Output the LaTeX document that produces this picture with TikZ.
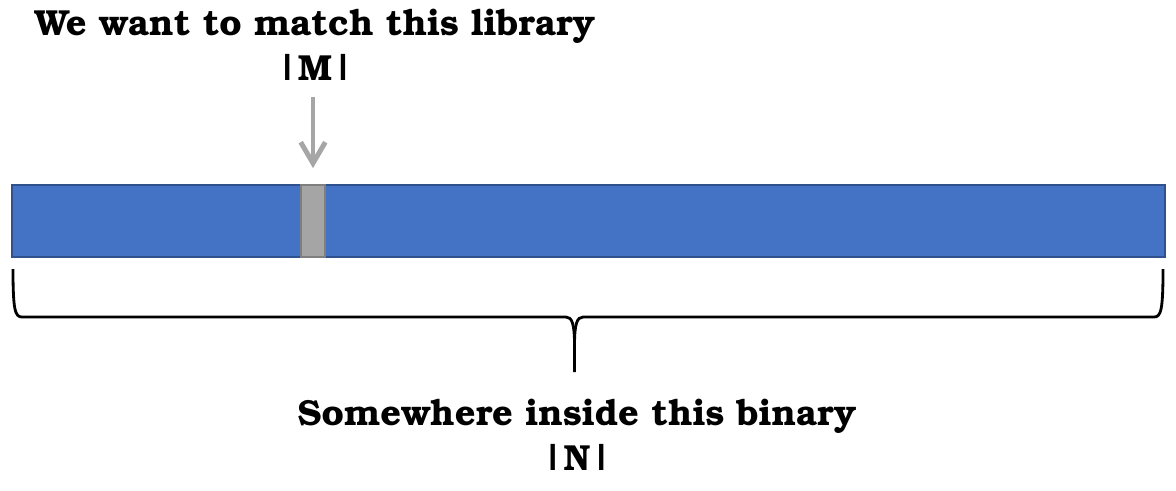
\documentclass[tikz,border=0pt]{standalone}
\usepackage[T1]{fontenc}
\usepackage{bookman}
\usepackage{tikz}
\usetikzlibrary{arrows.meta}
\definecolor{barblue}{HTML}{4472C4}
\definecolor{barline}{HTML}{2F528F}
\definecolor{matchgray}{HTML}{A5A5A5}
\definecolor{matchline}{HTML}{7F7F7F}
\definecolor{arrowgray}{HTML}{A6A6A6}

\begin{document}
\begin{tikzpicture}[
    label text/.style={font=\fontsize{10.3}{12}\selectfont\bfseries, inner sep=0pt},
    bin bar/.style={draw=barline, fill=barblue, line width=0.6pt, minimum width=11.53cm, minimum height=0.72cm, inner sep=0pt},
    match bar/.style={draw=matchline, fill=matchgray, line width=0.6pt, minimum width=0.24cm, minimum height=0.72cm, inner sep=0pt}
]
                    \useasboundingbox (0,0) rectangle (11.76,4.90);
                    \node[bin bar] (bar) at (5.885,2.69){};
                    \node[match bar] (match) at (3.13,2.69){};
                    \coordinate (arrowtop) at (3.13,3.93);
                    \draw[arrowgray, line width=1.4pt, -{Straight Barb[length=6pt,width=7pt,line width=1.4pt]}] (arrowtop) -- ([yshift=4.5pt]match.north);

                    % brace under the bar
                    \coordinate (braceL) at (0.13,2.21);
                    \coordinate (braceR) at (11.63,2.21);
                    \coordinate (bracetip) at (5.745,1.18);
                    \draw[black, line width=0.8pt] (braceL) .. controls (0.13,1.80) and (0.15,1.73) .. (0.22,1.73) -- (5.66,1.73) .. controls (5.72,1.73) and (5.745,1.66) .. (5.745,1.45) -- (bracetip);
                    \draw[black, line width=0.8pt] (braceR) .. controls (11.63,1.80) and (11.61,1.73) .. (11.54,1.73) -- (5.83,1.73) .. controls (5.77,1.73) and (5.745,1.66) .. (5.745,1.45);

                    \node[label text] (lib) at (3.15,4.63){We want to match this library};
                    \node[label text] (libsize) at (3.15,4.18){|M|};
                    \node[label text] (bin) at (5.77,0.73){Somewhere inside this binary};
                    \node[label text] (binsize) at (5.77,0.28){|N|};
\end{tikzpicture}
\end{document}
